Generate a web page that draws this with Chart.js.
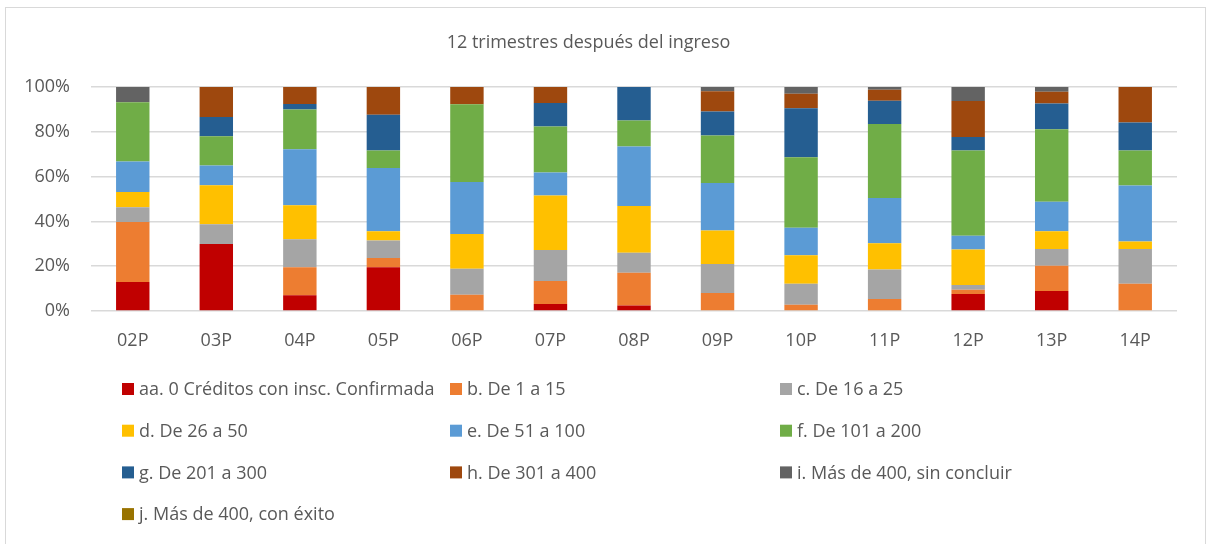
<!DOCTYPE html>
<html>
<head>
<meta charset="utf-8">
<script src="https://cdn.jsdelivr.net/npm/chart.js@4"></script>
<style>
  html, body { margin: 0; padding: 0; background: #fff; }
  #wrap { position: absolute; left: 0; top: 0; width: 1208px; height: 544px; }
</style>
</head>
<body>
<div id="wrap"><canvas id="chart"></canvas></div>
<script>
const categories = ['02P', '03P', '04P', '05P', '06P', '07P', '08P', '09P', '10P', '11P', '12P', '13P', '14P'];

const seriesNames = [
  'aa. 0 Créditos con insc. Confirmada',
  'b. De 1 a 15',
  'c. De 16 a 25',
  'd. De 26 a 50',
  'e. De 51 a 100',
  'f. De 101 a 200',
  'g. De 201 a 300',
  'h. De 301 a 400',
  'i. Más de 400, sin concluir',
  'j. Más de 400, con éxito'
];

// percentages, one value per category
const aa = [12.9, 29.9, 7.0, 19.5, 0, 3.1, 2.4, 0, 0, 0, 7.6, 8.9, 0];
const b  = [26.8, 0, 12.5, 4.2, 7.3, 10.3, 14.7, 8.0, 2.8, 5.4, 1.9, 11.3, 12.2];
const c  = [6.6, 8.8, 12.5, 7.8, 11.6, 13.8, 8.9, 13.0, 9.4, 13.1, 2.1, 7.5, 15.5];
const d  = [6.8, 17.4, 15.2, 4.1, 15.5, 24.4, 20.9, 14.9, 12.7, 11.7, 15.9, 7.9, 3.3];
const e  = [13.6, 8.8, 25.0, 28.2, 23.2, 10.2, 26.5, 21.2, 12.3, 20.2, 6.1, 13.2, 25.0];
const f  = [26.5, 13.1, 17.7, 7.9, 34.7, 20.6, 11.7, 21.3, 31.4, 33.1, 38.1, 32.3, 15.7];
const g  = [0, 8.6, 2.5, 15.9, 0, 10.5, 14.9, 10.7, 21.9, 10.4, 6.0, 11.5, 12.5];
const h  = [0, 13.4, 7.6, 12.4, 7.7, 7.1, 0, 9.0, 6.5, 4.9, 16.1, 5.3, 15.8];
const i  = [6.8, 0, 0, 0, 0, 0, 0, 1.9, 3.0, 1.2, 6.2, 2.1, 0];
const j  = [0, 0, 0, 0, 0, 0, 0, 0, 0, 0, 0, 0, 0];

const yTicks = [0, 20, 40, 60, 80, 100];

const seriesValues = [aa, b, c, d, e, f, g, h, i, j];
const colors = ['#C00000', '#ED7D31', '#A5A5A5', '#FFC000', '#5B9BD5', '#70AD47', '#255E91', '#9E480E', '#636363', '#997300'];

const FONT = '"Open Sans", Carlito, Calibri, sans-serif';
const FSIZE = 18;
const TEXT = '#595959';

// legend in three fixed columns, like the spreadsheet one
const gridLegend = {
  id: 'gridLegend',
  afterDraw(chart) {
    const ctx = chart.ctx;
    const cols = [122, 450, 780];
    ctx.save();
    ctx.font = FSIZE + 'px ' + FONT;
    ctx.textBaseline = 'middle';
    ctx.textAlign = 'left';
    chart.data.datasets.forEach((ds, k) => {
      const x = cols[k % 3];
      const y = 389 + Math.floor(k / 3) * 41.7;
      ctx.fillStyle = ds.backgroundColor;
      ctx.fillRect(x, y - 6, 12, 12);
      ctx.fillStyle = TEXT;
      ctx.fillText(ds.label, x + 17, y + 1);
    });
    // outer frame
    ctx.strokeStyle = '#d9d9d9';
    ctx.lineWidth = 1;
    ctx.strokeRect(5.5, 7.5, 1200, 600);
    ctx.restore();
  }
};

const ctx = document.getElementById('chart').getContext('2d');
new Chart(ctx, {
  type: 'bar',
  data: {
    labels: categories,
    datasets: seriesNames.map((name, k) => ({
      label: name,
      data: seriesValues[k],
      backgroundColor: colors[k],
      borderWidth: 0,
      barPercentage: 0.4,
      categoryPercentage: 1.0
    }))
  },
  options: {
    responsive: true,
    maintainAspectRatio: false,
    animation: false,
    layout: { padding: { left: 0, right: 31, top: 0, bottom: 193 } },
    plugins: {
      legend: { display: false },
      tooltip: { enabled: false },
      title: {
        display: true,
        text: '12 trimestres después del ingreso',
        color: TEXT,
        font: { family: FONT, size: FSIZE, weight: 'normal' },
        padding: { top: 32.2, bottom: 33.2 }
      }
    },
    scales: {
      x: {
        stacked: true,
        grid: { display: false, drawTicks: false },
        border: { display: false },
        ticks: { color: TEXT, font: { family: FONT, size: FSIZE }, padding: 19 },
        afterFit(scale) { scale.height = 40; }
      },
      y: {
        stacked: true,
        min: 0,
        max: 100,
        afterBuildTicks(scale) { scale.ticks = yTicks.map(v => ({ value: v })); },
        grid: { color: '#d9d9d9', lineWidth: 1.5, drawTicks: false },
        border: { display: false },
        ticks: {
          color: TEXT,
          font: { family: FONT, size: FSIZE },
          padding: 21,
          callback: v => v + '%'
        },
        afterFit(scale) { scale.width = 91; }
      }
    }
  },
  plugins: [gridLegend]
});
</script>
</body>
</html>
